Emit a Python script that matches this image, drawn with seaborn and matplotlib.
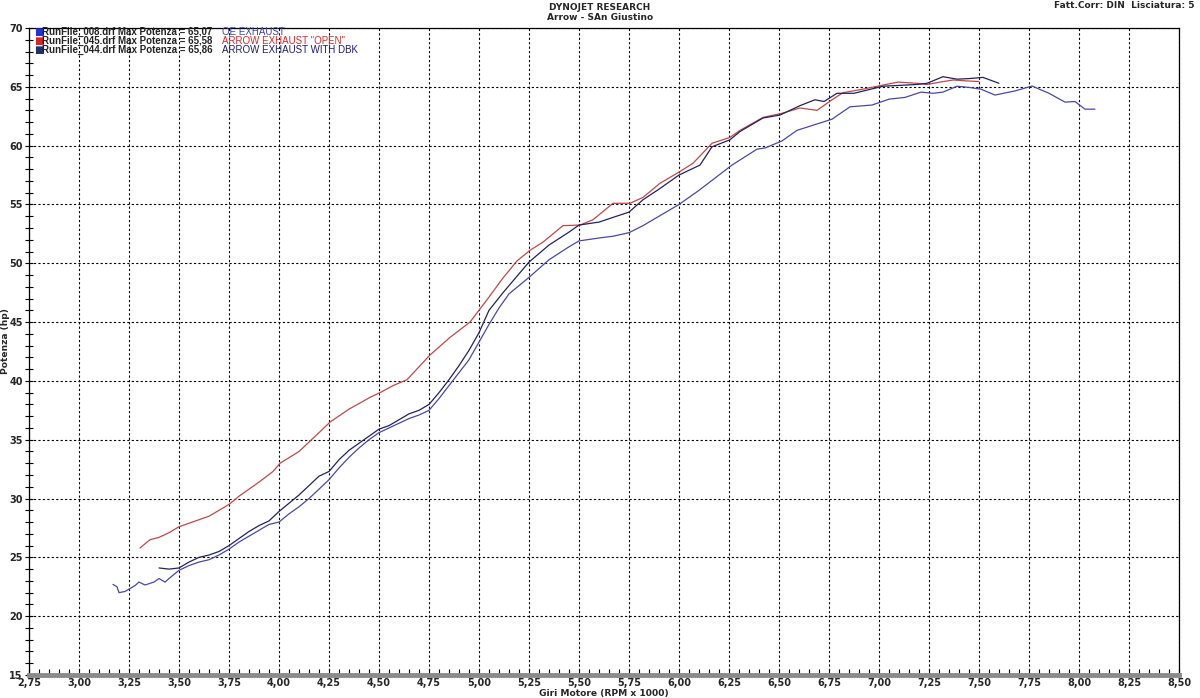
import numpy as np
import pandas as pd
import seaborn as sns
import matplotlib
matplotlib.use("Agg")
import matplotlib.pyplot as plt
from matplotlib.ticker import MultipleLocator, FuncFormatter

# ---------------- data ----------------
rpm_oe = [3.17, 3.19, 3.20, 3.23, 3.25, 3.28, 3.30, 3.33, 3.375, 3.40, 3.43, 3.45, 3.50,
          3.55, 3.60, 3.65, 3.70, 3.75, 3.80, 3.85, 3.90, 3.95, 4.00, 4.05, 4.10, 4.15,
          4.20, 4.25, 4.30, 4.35, 4.40, 4.45, 4.50, 4.55, 4.60, 4.65, 4.70, 4.75, 4.80,
          4.85, 4.90, 4.95, 5.00, 5.05, 5.10, 5.15, 5.25, 5.35, 5.45, 5.50, 5.60, 5.67,
          5.75, 5.82, 5.90, 6.00, 6.10, 6.265, 6.39, 6.43, 6.515, 6.59, 6.765, 6.855,
          6.965, 7.05, 7.13, 7.21, 7.27, 7.32, 7.39, 7.45, 7.51, 7.58, 7.68, 7.765, 7.85,
          7.93, 7.98, 8.03, 8.08]
hp_oe = [22.7, 22.5, 22.0, 22.1, 22.3, 22.6, 22.9, 22.65, 22.9, 23.2, 22.9, 23.2, 23.9,
         24.3, 24.6, 24.8, 25.2, 25.7, 26.3, 26.8, 27.3, 27.8, 28.0, 28.7, 29.3, 30.0,
         30.8, 31.6, 32.6, 33.5, 34.3, 35.0, 35.6, 36.0, 36.4, 36.8, 37.1, 37.5, 38.5,
         39.6, 40.7, 41.8, 43.3, 44.8, 46.2, 47.4, 48.8, 50.3, 51.4, 51.9, 52.15, 52.3,
         52.6, 53.2, 54.0, 55.0, 56.2, 58.35, 59.7, 59.8, 60.4, 61.3, 62.25, 63.3,
         63.45, 63.95, 64.1, 64.55, 64.45, 64.55, 65.05, 64.95, 64.8, 64.3, 64.65, 65.07,
         64.45, 63.7, 63.75, 63.1, 63.1]

rpm_open = [3.305, 3.355, 3.40, 3.45, 3.50, 3.55, 3.60, 3.65, 3.70, 3.75, 3.80, 3.85,
            3.90, 3.97, 4.005, 4.10, 4.20, 4.255, 4.35, 4.455, 4.505, 4.57, 4.64, 4.70,
            4.755, 4.855, 4.955, 5.04, 5.12, 5.19, 5.255, 5.32, 5.42, 5.505, 5.57, 5.67,
            5.755, 5.82, 5.905, 6.005, 6.07, 6.165, 6.255, 6.305, 6.42, 6.515, 6.605,
            6.69, 6.765, 6.82, 6.92, 7.02, 7.095, 7.19, 7.24, 7.305, 7.37, 7.44, 7.50]
hp_open = [25.8, 26.5, 26.7, 27.1, 27.6, 27.9, 28.2, 28.5, 29.0, 29.5, 30.2, 30.8,
           31.4, 32.3, 33.0, 34.0, 35.6, 36.5, 37.6, 38.6, 39.0, 39.6, 40.1, 41.2,
           42.2, 43.7, 45.0, 46.9, 48.75, 50.2, 51.1, 51.8, 53.2, 53.25, 53.7, 55.1,
           55.1, 55.6, 56.8, 57.8, 58.5, 60.2, 60.7, 61.3, 62.4, 62.75, 63.2,
           63.0, 63.9, 64.5, 64.8, 65.15, 65.4, 65.3, 65.2, 65.4, 65.58, 65.5, 65.45]

rpm_dbk = [3.40, 3.45, 3.50, 3.55, 3.60, 3.65, 3.70, 3.75, 3.80, 3.85, 3.90, 3.95, 4.00,
           4.05, 4.10, 4.15, 4.20, 4.25, 4.30, 4.35, 4.40, 4.45, 4.50, 4.55, 4.60, 4.65,
           4.70, 4.75, 4.80, 4.85, 4.90, 4.95, 5.00, 5.05, 5.12, 5.19, 5.25, 5.35, 5.45,
           5.50, 5.60, 5.67, 5.75, 5.82, 5.90, 6.00, 6.105, 6.165, 6.255, 6.305, 6.42,
           6.505, 6.605, 6.68, 6.725, 6.79, 6.875, 7.02, 7.19, 7.24, 7.32, 7.39, 7.45,
           7.52, 7.60]
hp_dbk = [24.1, 24.0, 24.1, 24.6, 25.0, 25.2, 25.5, 26.0, 26.6, 27.2, 27.7, 28.1, 28.9,
          29.6, 30.3, 31.1, 31.9, 32.3, 33.3, 34.1, 34.7, 35.3, 35.9, 36.2, 36.7, 37.2,
          37.5, 38.0, 39.0, 40.1, 41.3, 42.6, 44.1, 46.0, 47.5, 48.9, 50.1, 51.55, 52.65,
          53.25, 53.5, 53.9, 54.35, 55.4, 56.3, 57.5, 58.35, 59.9, 60.5, 61.2, 62.35,
          62.6, 63.4, 63.9, 63.75, 64.45, 64.45, 65.05, 65.2, 65.3, 65.86, 65.65, 65.7,
          65.8, 65.3]

run_files = ["RunFile_008.drf", "RunFile_045.drf", "RunFile_044.drf"]
max_power = ["65,07", "65,58", "65,86"]
run_names = ["OE EXHAUST", 'ARROW EXHAUST "OPEN"', "ARROW EXHAUST WITH DBK"]
line_colors = ["#4848a8", "#c04848", "#22225e"]
text_colors = ["#3a46a8", "#d82828", "#1e1e70"]
marker_colors = ["#2233dd", "#dd2222", "#223070"]

# ---------------- build table ----------------
df = pd.concat([
    pd.DataFrame({"rpm": rpm_oe, "hp": hp_oe, "run": run_names[0]}),
    pd.DataFrame({"rpm": rpm_open, "hp": hp_open, "run": run_names[1]}),
    pd.DataFrame({"rpm": rpm_dbk, "hp": hp_dbk, "run": run_names[2]}),
], ignore_index=True)

sns.set_style("white")
plt.rcParams["font.family"] = ["DejaVu Sans"]

fig = plt.figure(figsize=(12, 6.98), dpi=100)
ax = fig.add_axes([29 / 1200, 1 - 675 / 698, 1150 / 1200, 647 / 698])

sns.lineplot(data=df, x="rpm", y="hp", hue="run", palette=dict(zip(run_names, line_colors)),
             sort=False, estimator=None, legend=False, linewidth=0.9, ax=ax, zorder=3)

ax.set_xlim(2.75, 8.5)
ax.set_ylim(15, 70)
ax.xaxis.set_major_locator(MultipleLocator(0.25))
ax.xaxis.set_minor_locator(MultipleLocator(0.05))
ax.yaxis.set_major_locator(MultipleLocator(5))
ax.yaxis.set_minor_locator(MultipleLocator(1))
ax.xaxis.set_major_formatter(FuncFormatter(lambda v, p: f"{v:.2f}".replace(".", ",")))
ax.yaxis.set_major_formatter(FuncFormatter(lambda v, p: f"{v:.0f}"))

ax.grid(which="major", linestyle=(0, (2, 2)), color="black", linewidth=0.8)
ax.set_axisbelow(True)

for s in ["left", "top", "right"]:
    ax.spines[s].set_color("black")
    ax.spines[s].set_linewidth(0.9)
    ax.spines[s].set_visible(True)
ax.spines["bottom"].set_color("#8a8a8a")
ax.spines["bottom"].set_linewidth(3.5)
ax.spines["bottom"].set_visible(True)

ax.tick_params(axis="x", which="both", direction="in", length=4, width=0.8, color="black",
               bottom=True, pad=2, labelsize=7)
ax.tick_params(axis="y", which="both", direction="inout", length=6, width=0.8, color="black",
               left=True, pad=1.5, labelsize=7)
for lab in ax.get_xticklabels() + ax.get_yticklabels():
    lab.set_fontweight("bold")

ax.set_xlabel("Giri Motore (RPM x 1000)", fontsize=6.6, fontweight="bold", va="center")
ax.set_ylabel("Potenza (hp)", fontsize=6.6, fontweight="bold", va="center")
ax.xaxis.set_label_coords(0.5, (675 - 693.5) / 647)
ax.yaxis.set_label_coords((5.5 - 29) / 1150, (675 - 341) / 647)

# header texts
fig.text(0.5, 1 - 7 / 698, "DYNOJET RESEARCH", ha="center", va="center",
         fontsize=6.5, fontweight="bold")
fig.text(0.5, 1 - 18 / 698, "Arrow - SAn Giustino", ha="center", va="center",
         fontsize=6.5, fontweight="bold")
fig.text(1195 / 1200, 1 - 6 / 698, "Fatt.Corr: DIN  Lisciatura: 5", ha="right", va="center",
         fontsize=6.5, fontweight="bold")

# legend block
for i in range(3):
    yy = 1 - (32 + 9 * i) / 698
    fig.text(34 / 1200, yy, "■", color=marker_colors[i], ha="left", va="center", fontsize=7.5)
    fig.text(42 / 1200, yy, f"{run_files[i]} Max Potenza = {max_power[i]}", ha="left",
             va="center", fontsize=7.0, fontweight="bold", color="#222222",
             family="Liberation Sans")
    fig.text(222 / 1200, yy, run_names[i], ha="left", va="center", fontsize=7.0,
             color=text_colors[i], family="Liberation Sans")

fig.savefig("out.png", dpi=100)
